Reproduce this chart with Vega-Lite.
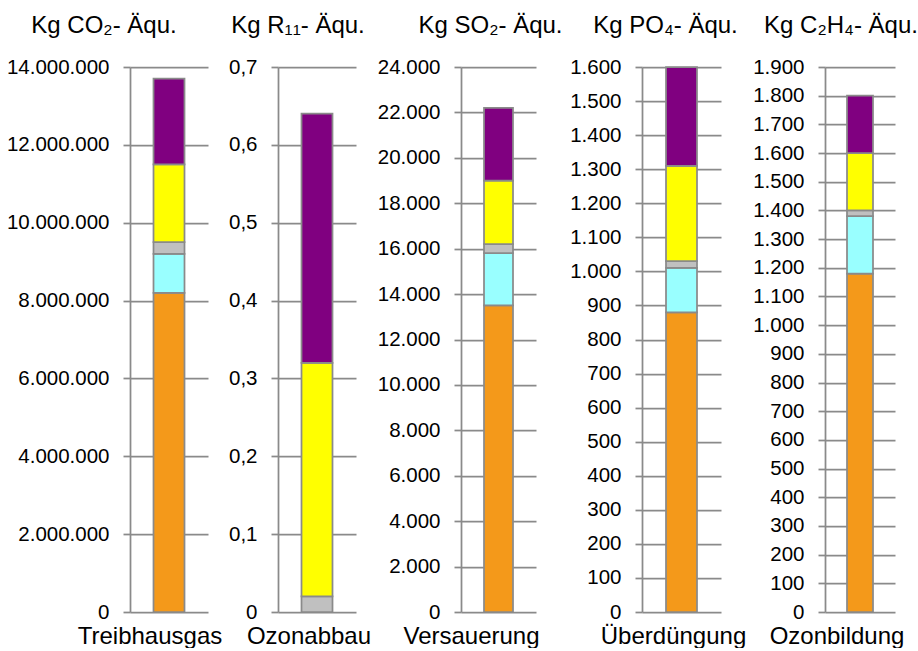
{
  "$schema": "https://vega.github.io/schema/vega-lite/v6.json",
  "padding": {"left": 6, "top": 14, "right": 0, "bottom": 0},
  "datasets": {
    "wirkung": [
      {"kategorie": "Treibhausgas", "anteil": "Teil 1", "wert": 8200000},
      {"kategorie": "Treibhausgas", "anteil": "Teil 2", "wert": 1000000},
      {"kategorie": "Treibhausgas", "anteil": "Teil 3", "wert": 300000},
      {"kategorie": "Treibhausgas", "anteil": "Teil 4", "wert": 2000000},
      {"kategorie": "Treibhausgas", "anteil": "Teil 5", "wert": 2200000},
      {"kategorie": "Ozonabbau", "anteil": "Teil 3", "wert": 0.02},
      {"kategorie": "Ozonabbau", "anteil": "Teil 4", "wert": 0.30},
      {"kategorie": "Ozonabbau", "anteil": "Teil 5", "wert": 0.32},
      {"kategorie": "Versauerung", "anteil": "Teil 1", "wert": 13500},
      {"kategorie": "Versauerung", "anteil": "Teil 2", "wert": 2300},
      {"kategorie": "Versauerung", "anteil": "Teil 3", "wert": 400},
      {"kategorie": "Versauerung", "anteil": "Teil 4", "wert": 2800},
      {"kategorie": "Versauerung", "anteil": "Teil 5", "wert": 3200},
      {"kategorie": "Überdüngung", "anteil": "Teil 1", "wert": 880},
      {"kategorie": "Überdüngung", "anteil": "Teil 2", "wert": 130},
      {"kategorie": "Überdüngung", "anteil": "Teil 3", "wert": 20},
      {"kategorie": "Überdüngung", "anteil": "Teil 4", "wert": 280},
      {"kategorie": "Überdüngung", "anteil": "Teil 5", "wert": 290},
      {"kategorie": "Ozonbildung", "anteil": "Teil 1", "wert": 1180},
      {"kategorie": "Ozonbildung", "anteil": "Teil 2", "wert": 200},
      {"kategorie": "Ozonbildung", "anteil": "Teil 3", "wert": 20},
      {"kategorie": "Ozonbildung", "anteil": "Teil 4", "wert": 200},
      {"kategorie": "Ozonbildung", "anteil": "Teil 5", "wert": 200}
    ]
  },
  "data": {"name": "wirkung"},
  "hconcat": [
    {
      "width": 78, "height": 545,
      "title": {"text": "Kg CO₂- Äqu.", "dx": -65},
      "transform": [{"filter": "datum.kategorie == 'Treibhausgas'"}],
      "mark": {"type": "bar", "size": 31, "stroke": "#8a8a8a", "strokeWidth": 1.75},
      "encoding": {
        "x": {"field": "kategorie", "type": "nominal", "title": null, "axis": {"labelOffset": -19}},
        "y": {"field": "wert", "type": "quantitative", "stack": "zero", "title": null,
              "scale": {"domain": [0, 14000000], "nice": false},
              "axis": {"tickCount": 7, "format": ",d"}},
        "color": {"field": "anteil", "type": "nominal", "legend": null,
                  "scale": {"domain": ["Teil 1", "Teil 2", "Teil 3", "Teil 4", "Teil 5"],
                            "range": ["#f4991a", "#99ffff", "#c0c0c0", "#ffff00", "#800080"]}},
        "order": {"field": "anteil", "sort": "ascending"}
      }
    },
    {
      "width": 78, "height": 545,
      "title": {"text": "Kg R₁₁- Äqu.", "dx": -19},
      "transform": [{"filter": "datum.kategorie == 'Ozonabbau'"}],
      "mark": {"type": "bar", "size": 31, "stroke": "#8a8a8a", "strokeWidth": 1.75},
      "encoding": {
        "x": {"field": "kategorie", "type": "nominal", "title": null, "axis": {"labelOffset": -8}},
        "y": {"field": "wert", "type": "quantitative", "stack": "zero", "title": null,
              "scale": {"domain": [0, 0.7], "nice": false},
              "axis": {"tickCount": 7, "format": ".1~f"}},
        "color": {"field": "anteil", "type": "nominal", "legend": null,
                  "scale": {"domain": ["Teil 1", "Teil 2", "Teil 3", "Teil 4", "Teil 5"],
                            "range": ["#f4991a", "#99ffff", "#c0c0c0", "#ffff00", "#800080"]}},
        "order": {"field": "anteil", "sort": "ascending"}
      }
    },
    {
      "width": 75, "height": 545,
      "title": {"text": "Kg SO₂- Äqu.", "dx": -8},
      "transform": [{"filter": "datum.kategorie == 'Versauerung'"}],
      "mark": {"type": "bar", "size": 29, "stroke": "#8a8a8a", "strokeWidth": 1.75},
      "encoding": {
        "x": {"field": "kategorie", "type": "nominal", "title": null, "axis": {"labelOffset": -27}},
        "y": {"field": "wert", "type": "quantitative", "stack": "zero", "title": null,
              "scale": {"domain": [0, 24000], "nice": false},
              "axis": {"tickCount": 12, "format": ",d"}},
        "color": {"field": "anteil", "type": "nominal", "legend": null,
                  "scale": {"domain": ["Teil 1", "Teil 2", "Teil 3", "Teil 4", "Teil 5"],
                            "range": ["#f4991a", "#99ffff", "#c0c0c0", "#ffff00", "#800080"]}},
        "order": {"field": "anteil", "sort": "ascending"}
      }
    },
    {
      "width": 79, "height": 545,
      "title": {"text": "Kg PO₄- Äqu.", "dx": -16},
      "transform": [{"filter": "datum.kategorie == 'Überdüngung'"}],
      "mark": {"type": "bar", "size": 31, "stroke": "#8a8a8a", "strokeWidth": 1.75},
      "encoding": {
        "x": {"field": "kategorie", "type": "nominal", "title": null, "axis": {"labelOffset": -8}},
        "y": {"field": "wert", "type": "quantitative", "stack": "zero", "title": null,
              "scale": {"domain": [0, 1600], "nice": false},
              "axis": {"tickCount": 16, "format": ",d"}},
        "color": {"field": "anteil", "type": "nominal", "legend": null,
                  "scale": {"domain": ["Teil 1", "Teil 2", "Teil 3", "Teil 4", "Teil 5"],
                            "range": ["#f4991a", "#99ffff", "#c0c0c0", "#ffff00", "#800080"]}},
        "order": {"field": "anteil", "sort": "ascending"}
      }
    },
    {
      "width": 70, "height": 545,
      "title": {"text": "Kg C₂H₄- Äqu.", "dx": -19},
      "transform": [{"filter": "datum.kategorie == 'Ozonbildung'"}],
      "mark": {"type": "bar", "size": 26, "stroke": "#8a8a8a", "strokeWidth": 1.75},
      "encoding": {
        "x": {"field": "kategorie", "type": "nominal", "title": null, "axis": {"labelOffset": -23}},
        "y": {"field": "wert", "type": "quantitative", "stack": "zero", "title": null,
              "scale": {"domain": [0, 1900], "nice": false},
              "axis": {"tickCount": 19, "format": ",d"}},
        "color": {"field": "anteil", "type": "nominal", "legend": null,
                  "scale": {"domain": ["Teil 1", "Teil 2", "Teil 3", "Teil 4", "Teil 5"],
                            "range": ["#f4991a", "#99ffff", "#c0c0c0", "#ffff00", "#800080"]}},
        "order": {"field": "anteil", "sort": "ascending"}
      }
    }
  ],
  "resolve": {"scale": {"y": "independent", "x": "independent"}},
  "spacing": 6,
  "config": {
    "locale": {"number": {"decimal": ",", "thousands": ".", "grouping": [3], "currency": ["", " €"]}},
    "font": "Liberation Sans",
    "background": "#ffffff",
    "view": {"stroke": null},
    "axis": {
      "gridColor": "#8a8a8a", "gridWidth": 1.75, "gridOpacity": 1,
      "domainColor": "#8a8a8a", "domainWidth": 1.75,
      "tickColor": "#8a8a8a", "tickWidth": 1.75,
      "labelColor": "#000000", "labelFont": "Liberation Sans"
    },
    "axisY": {"tickSize": 7, "labelPadding": 14, "labelFontSize": 20.5, "grid": true},
    "axisX": {"domain": false, "ticks": false, "grid": false, "labelFontSize": 24, "labelAngle": 0, "labelPadding": 12},
    "title": {"fontSize": 24, "fontWeight": "normal", "anchor": "middle", "frame": "group", "color": "#000000", "font": "Liberation Sans", "offset": 19}
  }
}
